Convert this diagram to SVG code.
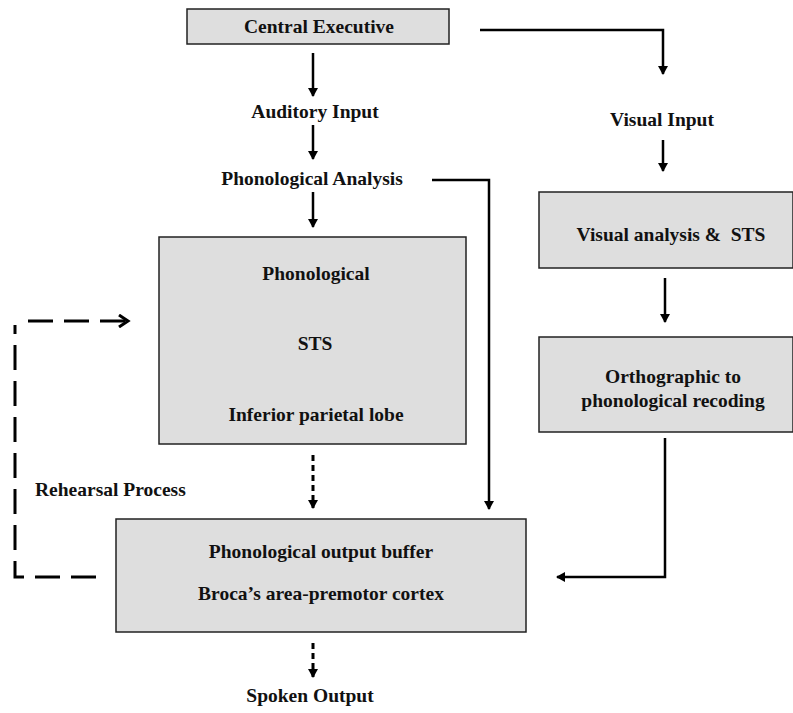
<svg xmlns="http://www.w3.org/2000/svg" width="793" height="713" viewBox="0 0 793 713">
<defs>
<style>
.box{fill:#dedede;stroke:#222;stroke-width:1.5}
.t{font-family:"Liberation Serif","Times New Roman",serif;font-weight:bold;font-size:19.5px;fill:#111;text-anchor:middle}
.tl{font-family:"Liberation Serif","Times New Roman",serif;font-weight:bold;font-size:19.5px;fill:#111}
.c{fill:none;stroke:#000;stroke-width:2.5}
.d{fill:none;stroke:#000;stroke-width:3;stroke-dasharray:6 4}
.ld{fill:none;stroke:#000;stroke-width:3;stroke-dasharray:25 11}
</style>
<marker id="ah" markerWidth="10" markerHeight="10" refX="8" refY="5" orient="auto" markerUnits="userSpaceOnUse">
<path d="M0,0 L9,5 L0,10 z" fill="#000"/>
</marker>
<marker id="oh" markerWidth="14" markerHeight="14" refX="11" refY="7" orient="auto" markerUnits="userSpaceOnUse">
<path d="M2,1 L11,7 L2,13" fill="none" stroke="#000" stroke-width="3"/>
</marker>
</defs>
<rect width="793" height="713" fill="#fff"/>
<g id="connectors">
<path class="c" d="M313,53 V96" marker-end="url(#ah)"/>
<path class="c" d="M313,125 V159" marker-end="url(#ah)"/>
<path class="c" d="M313,192 V227" marker-end="url(#ah)"/>
<path class="c" d="M480,30 H663 V74" marker-end="url(#ah)"/>
<path class="c" d="M663,140 V171" marker-end="url(#ah)"/>
<path class="c" d="M665,278 V322" marker-end="url(#ah)"/>
<path class="c" d="M432,180 H489 V509" marker-end="url(#ah)"/>
<path class="c" d="M665,438 V577 H557" marker-end="url(#ah)"/>
<path class="d" d="M313,455 V508" marker-end="url(#ah)"/>
<path class="d" d="M313,643 V677" marker-end="url(#ah)"/>
<path class="ld" d="M96,577 H15 V325"/>
<path class="ld" d="M28,321 H128" marker-end="url(#oh)"/>
</g>
<g id="central-executive">
<rect class="box" x="187" y="9" width="262" height="35"/>
<text class="t" x="319" y="33">Central Executive</text>
</g>
<g id="auditory-input"><text class="t" x="315" y="118">Auditory Input</text></g>
<g id="phonological-analysis"><text class="t" x="312" y="185">Phonological Analysis</text></g>
<g id="visual-input"><text class="t" x="662" y="126">Visual Input</text></g>
<g id="phonological-store">
<rect class="box" x="159" y="237" width="307" height="207"/>
<text class="t" x="316" y="280">Phonological</text>
<text class="t" x="315" y="350">STS</text>
<text class="t" x="316" y="421">Inferior parietal lobe</text>
</g>
<g id="visual-analysis">
<rect class="box" x="539" y="192" width="254" height="76"/>
<text class="t" x="671" y="241">Visual analysis &amp;&#160; STS</text>
</g>
<g id="orthographic">
<rect class="box" x="539" y="337" width="254" height="95"/>
<text class="t" x="673" y="383">Orthographic to</text>
<text class="t" x="673" y="407">phonological recoding</text>
</g>
<g id="rehearsal"><text class="tl" x="35" y="496">Rehearsal Process</text></g>
<g id="output-buffer">
<rect class="box" x="116" y="519" width="410" height="113"/>
<text class="t" x="321" y="558">Phonological output buffer</text>
<text class="t" x="321" y="600">Broca’s area-premotor cortex</text>
</g>
<g id="spoken-output"><text class="t" x="310" y="702">Spoken Output</text></g>
</svg>
